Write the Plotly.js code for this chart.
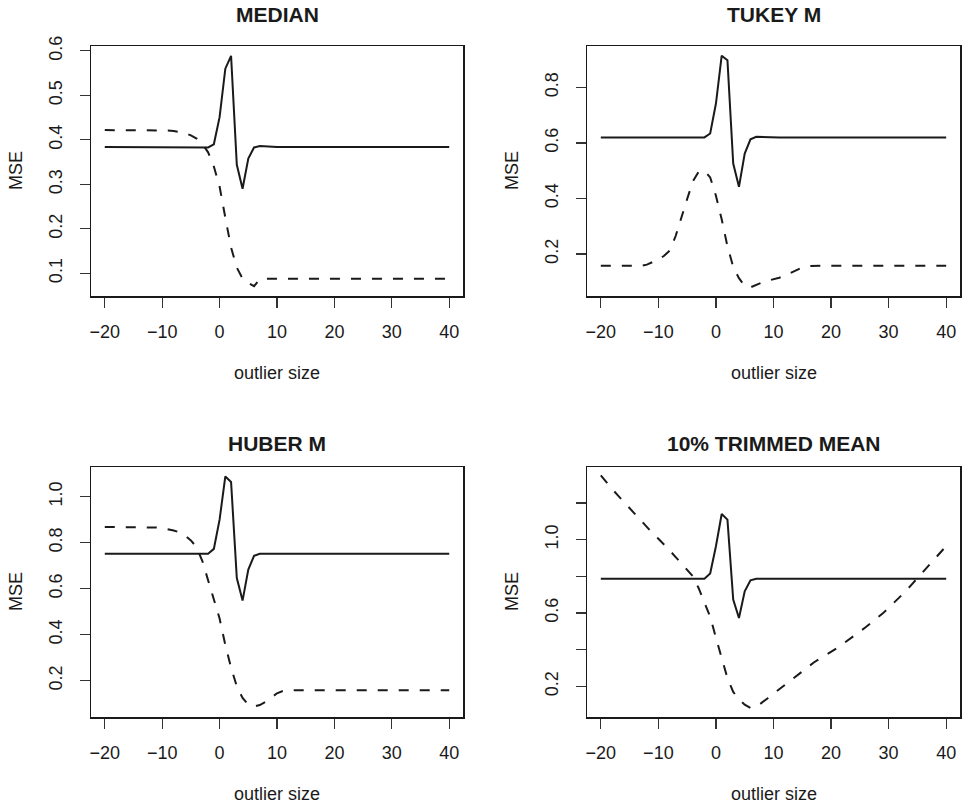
<!DOCTYPE html>
<html>
<head>
<meta charset="utf-8">
<script src="https://cdn.plot.ly/plotly-3.0.1.min.js"></script>
<style>html,body{margin:0;padding:0;background:#fff;}#chart{width:963px;height:804px;}</style>
</head>
<body>
<div id="chart"></div>
<script>
// outlier sizes
const outlierSize = [];
for (let v = -20; v <= 40; v++) outlierSize.push(v);

// MEDIAN
const medianSolid = [
  0.384,0.384,0.384,0.384,0.384,0.384,0.384,0.384,0.384,0.384,
  0.384,0.384,0.384,0.384,0.384,0.384,0.384,0.384,0.383,0.390,
  0.451,0.560,0.589,0.344,0.290,0.358,0.383,0.386,0.385,0.384,
  0.384,0.384,0.384,0.384,0.384,0.384,0.384,0.384,0.384,0.384,
  0.384,0.384,0.384,0.384,0.384,0.384,0.384,0.384,0.384,0.384,
  0.384,0.384,0.384,0.384,0.384,0.384,0.384,0.384,0.384,0.384,0.384];
const medianDashed = [
  0.422,0.422,0.422,0.422,0.422,0.422,0.422,0.422,0.422,0.422,
  0.422,0.421,0.420,0.418,0.415,0.410,0.403,0.391,0.372,0.340,
  0.295,0.225,0.158,0.113,0.088,0.078,0.071,0.087,0.088,0.088,
  0.088,0.088,0.088,0.088,0.088,0.088,0.088,0.088,0.088,0.088,
  0.088,0.088,0.088,0.088,0.088,0.088,0.088,0.088,0.088,0.088,
  0.088,0.088,0.088,0.088,0.088,0.088,0.088,0.088,0.088,0.088,0.088];

// TUKEY M
const tukeySolid = [
  0.620,0.620,0.620,0.620,0.620,0.620,0.620,0.620,0.620,0.620,
  0.620,0.620,0.620,0.620,0.620,0.620,0.620,0.620,0.620,0.634,
  0.742,0.914,0.898,0.526,0.442,0.562,0.613,0.622,0.621,0.620,
  0.620,0.620,0.620,0.620,0.620,0.620,0.620,0.620,0.620,0.620,
  0.620,0.620,0.620,0.620,0.620,0.620,0.620,0.620,0.620,0.620,
  0.620,0.620,0.620,0.620,0.620,0.620,0.620,0.620,0.620,0.620,0.620];
const tukeyDashed = [
  0.158,0.158,0.158,0.158,0.158,0.158,0.158,0.158,0.162,0.170,
  0.180,0.194,0.213,0.265,0.335,0.398,0.462,0.497,0.500,0.476,
  0.410,0.325,0.228,0.154,0.113,0.085,0.080,0.090,0.098,0.104,
  0.109,0.115,0.122,0.133,0.143,0.152,0.157,0.158,0.158,0.158,
  0.158,0.158,0.158,0.158,0.158,0.158,0.158,0.158,0.158,0.158,
  0.158,0.158,0.158,0.158,0.158,0.158,0.158,0.158,0.158,0.158,0.158];

// HUBER M
const huberSolid = [
  0.752,0.752,0.752,0.752,0.752,0.752,0.752,0.752,0.752,0.752,
  0.752,0.752,0.752,0.752,0.752,0.752,0.752,0.752,0.752,0.773,
  0.900,1.088,1.064,0.646,0.548,0.683,0.743,0.752,0.752,0.752,
  0.752,0.752,0.752,0.752,0.752,0.752,0.752,0.752,0.752,0.752,
  0.752,0.752,0.752,0.752,0.752,0.752,0.752,0.752,0.752,0.752,
  0.752,0.752,0.752,0.752,0.752,0.752,0.752,0.752,0.752,0.752,0.752];
const huberDashed = [
  0.868,0.868,0.868,0.868,0.868,0.868,0.868,0.868,0.868,0.866,
  0.864,0.860,0.853,0.845,0.830,0.810,0.780,0.720,0.640,0.555,
  0.470,0.355,0.257,0.175,0.125,0.095,0.088,0.094,0.108,0.126,
  0.145,0.155,0.158,0.158,0.158,0.158,0.158,0.158,0.158,0.158,
  0.158,0.158,0.158,0.158,0.158,0.158,0.158,0.158,0.158,0.158,
  0.158,0.158,0.158,0.158,0.158,0.158,0.158,0.158,0.158,0.158,0.158];

// 10% TRIMMED MEAN
const trimSolid = [
  0.787,0.787,0.787,0.787,0.787,0.787,0.787,0.787,0.787,0.787,
  0.787,0.787,0.787,0.787,0.787,0.787,0.787,0.787,0.787,0.815,
  0.964,1.140,1.109,0.673,0.573,0.718,0.778,0.787,0.787,0.787,
  0.787,0.787,0.787,0.787,0.787,0.787,0.787,0.787,0.787,0.787,
  0.787,0.787,0.787,0.787,0.787,0.787,0.787,0.787,0.787,0.787,
  0.787,0.787,0.787,0.787,0.787,0.787,0.787,0.787,0.787,0.787,0.787];
const trimDashed = [
  1.350,1.310,1.275,1.240,1.205,1.170,1.135,1.100,1.068,1.035,
  1.005,0.975,0.940,0.905,0.870,0.835,0.800,0.735,0.655,0.580,
  0.465,0.350,0.245,0.170,0.130,0.100,0.083,0.088,0.110,0.135,
  0.160,0.185,0.210,0.235,0.260,0.285,0.310,0.330,0.350,0.368,
  0.388,0.408,0.430,0.452,0.475,0.498,0.522,0.548,0.572,0.598,
  0.628,0.658,0.690,0.720,0.755,0.790,0.825,0.860,0.895,0.930,0.965];

const panelTitles = ["MEDIAN", "TUKEY M", "HUBER M", "10% TRIMMED MEAN"];
const xTicks = [-20, -10, 0, 10, 20, 30, 40];
const yTicks1 = [0.1, 0.2, 0.3, 0.4, 0.5, 0.6];
const yTicks2 = [0.2, 0.4, 0.6, 0.8];
const yTicks3 = [0.2, 0.4, 0.6, 0.8, 1.0];
const yTicks4 = [0.2, 0.4, 0.6, 0.8, 1.0, 1.2];
const yText1 = ["0.1","0.2","0.3","0.4","0.5","0.6"];
const yText2 = ["0.2","0.4","0.6","0.8"];
const yText3 = ["0.2","0.4","0.6","0.8","1.0"];
const yText4 = ["0.2","","0.6","","1.0",""];

const W = 963, H = 804;
const FONT = "Liberation Sans, Arial, Helvetica, sans-serif";
const INK = "#1a1a1a";

// panel boxes in pixels: [left, right, top, bottom]
const boxes = [
  [91, 463, 46, 296],
  [587, 960, 46, 296],
  [91, 463, 467, 717],
  [587, 960, 467, 717]
];
const yRanges = [[0.049, 0.611], [0.049, 0.949], [0.042, 1.129], [0.033, 1.396]];
const yTV = [yTicks1, yTicks2, yTicks3, yTicks4];
const yTT = [yText1, yText2, yText3, yText4];
const solids = [medianSolid, tukeySolid, huberSolid, trimSolid];
const dashes = [medianDashed, tukeyDashed, huberDashed, trimDashed];
const titleY = [15, 15, 443, 443];

const data = [];
const layout = {
  width: W, height: H,
  margin: {l: 0, r: 0, t: 0, b: 0},
  paper_bgcolor: "#fff", plot_bgcolor: "#fff",
  showlegend: false,
  font: {family: FONT, color: INK, size: 18},
  annotations: []
};

for (let i = 0; i < 4; i++) {
  const n = i + 1;
  const xa = n === 1 ? "x" : "x" + n;
  const ya = n === 1 ? "y" : "y" + n;
  const b = boxes[i];
  data.push({x: outlierSize, y: solids[i], xaxis: xa, yaxis: ya, mode: "lines",
    line: {color: INK, width: 2}, hoverinfo: "skip"});
  data.push({x: outlierSize, y: dashes[i], xaxis: xa, yaxis: ya, mode: "lines",
    line: {color: INK, width: 2, dash: "10px,11px"}, hoverinfo: "skip"});
  const axCommon = {
    showgrid: false, zeroline: false, showline: true, mirror: true,
    linecolor: INK, linewidth: 1.5, ticks: "outside", ticklen: 10,
    tickwidth: 1.2, tickcolor: "#333", tickfont: {family: FONT, size: 18, color: INK}
  };
  layout["xaxis" + (n === 1 ? "" : n)] = Object.assign({}, axCommon, {
    domain: [b[0] / W, b[1] / W], anchor: ya, range: [-22.4, 42.4],
    tickmode: "array", tickvals: xTicks, ticklabelstandoff: 9
  });
  layout["yaxis" + (n === 1 ? "" : n)] = Object.assign({}, axCommon, {
    domain: [1 - b[3] / H, 1 - b[2] / H], anchor: xa, range: yRanges[i],
    tickmode: "array", tickvals: yTV[i], ticktext: yTT[i], tickangle: -90,
    ticklabelstandoff: 10
  });
  const cx = (b[0] + b[1]) / 2 / W;
  layout.annotations.push({text: "<b>" + panelTitles[i] + "</b>", xref: "paper", yref: "paper",
    x: cx, y: 1 - titleY[i] / H, xanchor: "center", yanchor: "middle", showarrow: false,
    font: {family: FONT, size: 21, color: INK}});
  layout.annotations.push({text: "outlier size", xref: "paper", yref: "paper",
    x: cx, y: 1 - (b[3] + 77) / H, xanchor: "center", yanchor: "middle", showarrow: false,
    font: {family: FONT, size: 18, color: INK}});
  layout.annotations.push({text: "MSE", xref: "paper", yref: "paper",
    x: (b[0] - 75) / W, y: 1 - (b[2] + b[3]) / 2 / H, xanchor: "center", yanchor: "middle",
    textangle: -90, showarrow: false, font: {family: FONT, size: 18, color: INK}});
}

Plotly.newPlot("chart", data, layout, {staticPlot: true, displayModeBar: false});
</script>
</body>
</html>
